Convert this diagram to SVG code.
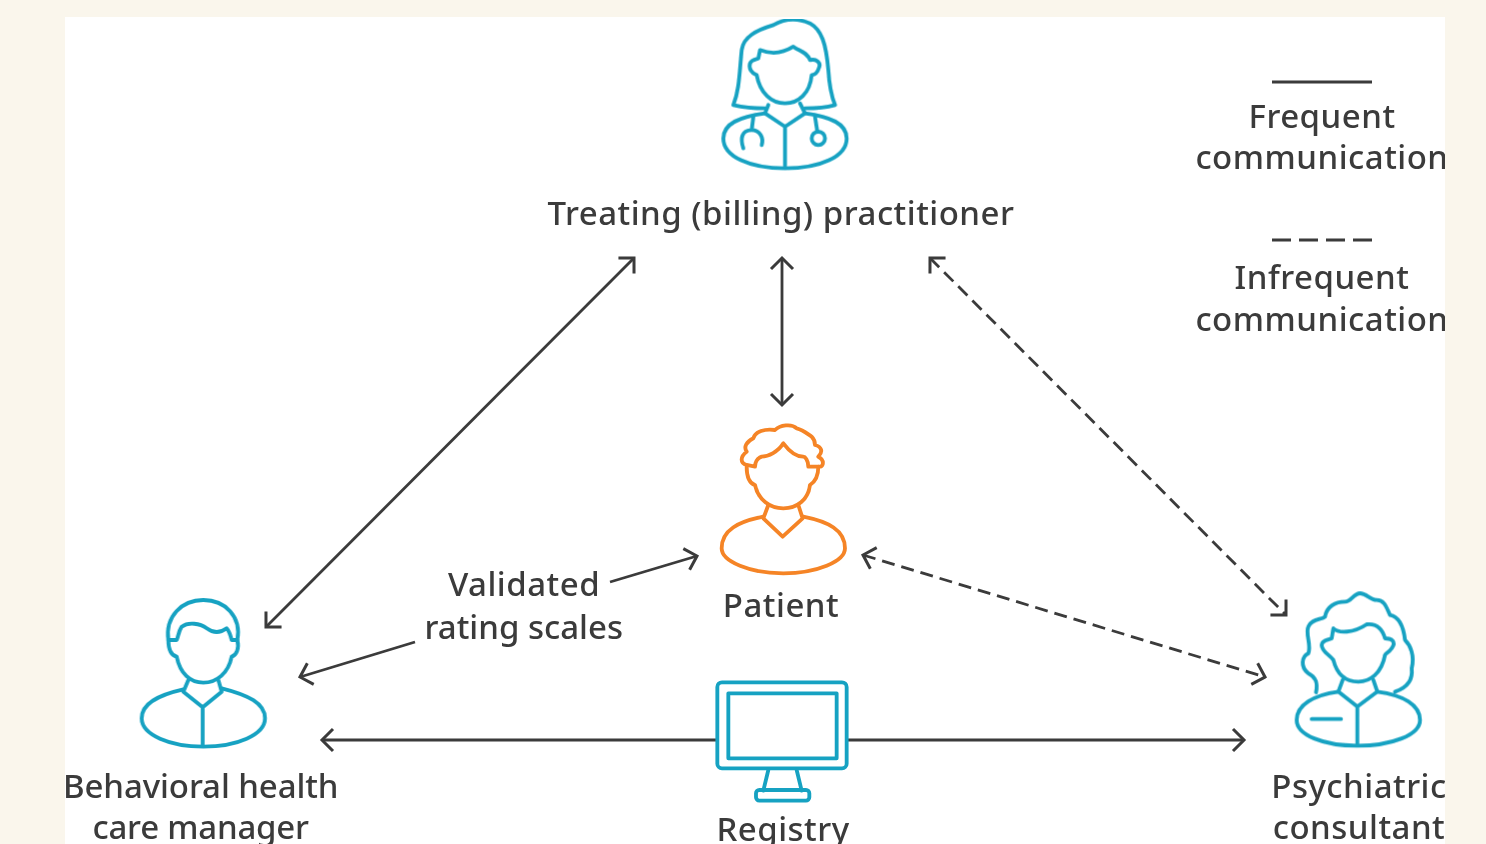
<svg xmlns="http://www.w3.org/2000/svg" width="1486" height="844" viewBox="0 0 1486 844">
<style>
.t{font-family:"Noto Sans","Liberation Sans",sans-serif;font-size:33px;font-weight:500;letter-spacing:.5px;fill:#3a3a3a;text-anchor:middle}
.i{fill:none;stroke:#17a2c2;stroke-width:11.5;stroke-linejoin:round;stroke-linecap:round}
.o{stroke:#f58426}
.c{fill:none;stroke:#3a3a3a;stroke-width:2.8}
.d{stroke-dasharray:13 7}
.l{stroke-dasharray:19 8}
</style>
<defs>
<filter id="b" x="0" y="0" width="1" height="1" filterUnits="objectBoundingBox"><feGaussianBlur stdDeviation=".45"/></filter>
<marker id="a" markerUnits="userSpaceOnUse" markerWidth="30" markerHeight="30" refX="15" refY="15" orient="auto-start-reverse"><path d="M4 4L15 15L4 26" fill="none" stroke="#3a3a3a" stroke-width="3"/></marker>
</defs>
<rect width="1486" height="844" fill="#faf6ec"/>
<rect x="65" y="17" width="1380" height="827" fill="#fff"/>
<g filter="url(#b)">
<g id="connectors" class="connectors">
<path class="c" d="M634 258L266 627" marker-start="url(#a)" marker-end="url(#a)"/>
<path class="c" d="M782 258V405" marker-start="url(#a)" marker-end="url(#a)"/>
<path class="c d" d="M930 258L1286 615" marker-start="url(#a)" marker-end="url(#a)"/>
<path class="c d" d="M863 555L1265 677" marker-start="url(#a)" marker-end="url(#a)"/>
<path class="c" d="M717 740H322" marker-end="url(#a)"/>
<path class="c" d="M847 740H1244" marker-end="url(#a)"/>
<path class="c" d="M610 582L697 556" marker-end="url(#a)"/>
<path class="c" d="M415 642L300 677" marker-end="url(#a)"/>
</g>
<g id="practitioner">
<g transform="translate(700 10) scale(.3333)" class="i">
<path d="M100 285C118 240 118 190 125 120C130 80 170 60 220 45C250 28 290 22 330 40C365 60 378 100 385 180C388 230 395 260 405 285C380 292 350 295 315 295M100 285C130 292 160 295 195 295"/>
<path d="M180 120C205 130 240 135 280 110C300 125 320 125 330 150C350 145 362 160 358 170C352 190 345 195 335 195C330 250 295 280 255 280C215 280 180 250 170 195C155 190 145 175 150 160C155 148 170 148 175 145Z"/>
<path d="M195 310C120 320 70 340 70 385C70 440 150 475 255 475C360 475 440 440 440 385C440 340 390 320 315 310"/>
<path d="M205 285L195 310L255 350L315 310L300 280M255 350V470"/>
<path d="M160 320L155 360C125 360 120 385 130 415M155 360C180 360 192 385 185 405M345 320L352 365"/>
<circle cx="355" cy="385" r="20"/>
</g>
<text class="t" x="781" y="225">Treating (billing) practitioner</text>
</g>
<g id="patient">
<g transform="translate(700 415) scale(.3333)" class="i o">
<path d="M140 150C120 145 120 125 140 110C130 95 140 80 160 70C165 50 195 40 225 45C240 30 275 25 290 40C310 45 320 55 335 65C345 75 345 85 345 90C365 95 370 110 355 125C375 135 370 155 360 155L325 155C325 135 315 125 310 125C285 125 265 105 250 85C235 110 205 125 185 125C170 130 165 145 165 155Z"/>
<path d="M140 155C140 185 150 205 165 210C175 255 210 280 250 280C290 280 325 255 330 210C345 200 355 180 355 155"/>
<path d="M190 305C115 320 65 345 65 400C65 440 150 475 250 475C350 475 435 440 435 400C435 345 385 320 310 305"/>
<path d="M205 270L190 310L248 365L308 310L295 270"/>
</g>
<text class="t" x="781" y="617">Patient</text>
</g>
<g id="care-manager">
<g transform="translate(120 590) scale(.3333)" class="i">
<path d="M145 150C135 80 185 30 250 30C315 30 365 80 352 150L335 150C330 130 325 120 320 115C300 130 280 130 260 115C240 100 205 95 185 110C175 125 175 140 170 150Z"/>
<path d="M145 150C145 175 150 195 170 200C180 250 210 278 250 278C290 278 325 250 335 200C350 195 358 175 352 150"/>
<path d="M190 298C115 315 65 340 65 385C65 435 150 470 250 470C350 470 435 435 435 385C435 340 385 315 305 295"/>
<path d="M205 270L190 305L248 352L305 305L295 270M248 352V465"/>
</g>
<text class="t" x="201" y="798" textLength="276">Behavioral health</text>
<text class="t" x="201" y="839" textLength="217">care manager</text>
</g>
<g id="consultant">
<g transform="translate(1270 585) scale(.3333)" class="i">
<path d="M138 322C145 290 135 275 115 265C90 245 95 215 115 205C125 180 105 145 115 125C125 100 155 105 165 95C170 65 195 50 225 50C245 50 250 25 270 25C290 25 300 45 320 45C345 45 350 70 360 90C385 95 400 120 405 165C420 180 435 210 425 250C430 290 405 310 375 320"/>
<path d="M190 130C205 145 250 145 290 118C315 115 335 125 345 160C365 160 380 170 365 190C355 205 345 205 345 210C335 265 300 290 265 290C225 290 200 265 190 225C180 210 155 200 155 180C155 165 175 165 185 160Z"/>
<path d="M205 320C130 330 80 360 80 405C80 450 160 482 262 482C365 482 450 450 450 405C450 360 400 330 322 320"/>
<path d="M218 285L205 320L262 365L322 320L310 285M262 365V480M125 402H213"/>
</g>
<text class="t" x="1359" y="798">Psychiatric</text>
<text class="t" x="1359" y="839">consultant</text>
</g>
<g id="registry">
<g transform="translate(700 670) scale(.3333)" class="i">
<rect x="52" y="37" width="388" height="258" rx="14"/>
<rect x="85" y="70" width="325" height="195"/>
<path d="M205 300L190 362M290 300L305 362M218 360H278"/>
<rect x="168" y="360" width="160" height="32" rx="10"/>
</g>
<text class="t" x="783" y="841">Registry</text>
</g>
<g id="scales"><text class="t" x="524" y="596">Validated</text><text class="t" x="524" y="639" textLength="199">rating scales</text></g>
<g id="legend-frequent"><path class="c" d="M1272 82H1372"/><text class="t" x="1322" y="128">Frequent</text><text class="t" x="1322" y="169">communication</text></g>
<g id="legend-infrequent"><path class="c l" d="M1272 240H1372"/><text class="t" x="1322" y="289">Infrequent</text><text class="t" x="1322" y="331">communication</text></g>
</g>
<rect x="1445" width="41" height="844" fill="#faf6ec"/>
</svg>
